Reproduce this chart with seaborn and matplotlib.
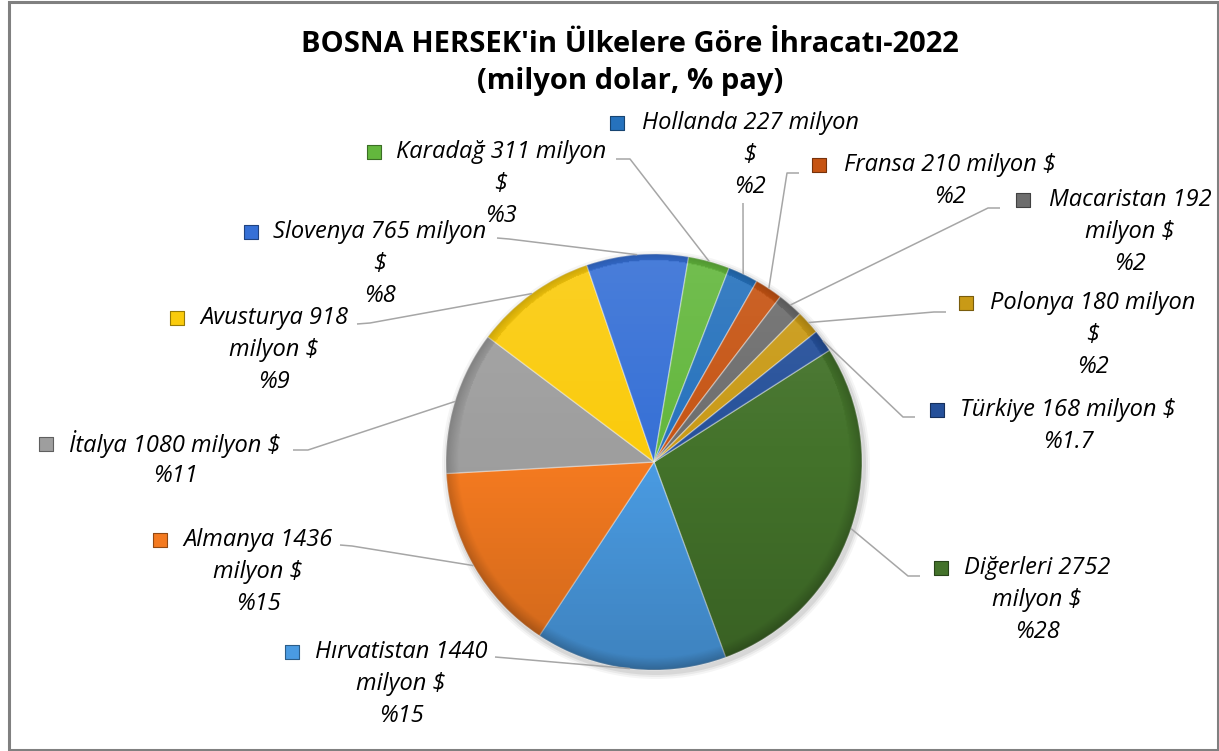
import numpy as np
import matplotlib.pyplot as plt
import matplotlib.colors as mcolors
import seaborn as sns
from matplotlib.patches import Circle, Rectangle

sns.set_theme(style="white")
plt.rcParams['font.family'] = ['Open Sans', 'DejaVu Sans']

# ==============================
# Data (clockwise order, starting from Diğerleri)
# ==============================
countries = ["Diğerleri", "Hırvatistan", "Almanya", "İtalya", "Avusturya", "Slovenya",
             "Karadağ", "Hollanda", "Fransa", "Macaristan", "Polonya", "Türkiye"]
values = [2752, 1440, 1436, 1080, 918, 765, 311, 227, 210, 192, 180, 168]
shares = ["%28", "%15", "%15", "%11", "%9", "%8", "%3", "%2", "%2", "%2", "%2", "%1.7"]
slice_colors = ["#43722A", "#4A9BE2", "#F47A20", "#9E9E9E", "#FACB0C", "#3670D6",
                "#63B73D", "#2672BD", "#C65413", "#6D6D6D", "#C99A16", "#25509A"]

title_lines = ["BOSNA HERSEK'in Ülkelere Göre İhracatı-2022", "(milyon dolar, % pay)"]

# ==============================
# Layout (pixels, measured from top-left of the 1219x751 canvas)
# ==============================
W, H = 1219, 751
PIE_C = (654, 462)
PIE_R = 208
# how many words stay on the first label line
wrap_words = [2, 2, 2, 4, 2, 3, 3, 3, 4, 2, 3, 4]
# first-line centre of each label, and x of its legend key
label_xy = [(1037, 568), (401, 652), (258, 540), (175, 444), (274, 318), (380, 232),
            (501, 152), (750, 123), (950, 165), (1130, 200), (1093, 303), (1068, 410)]
key_x = [941, 292, 160, 46, 177, 251, 374, 617, 819, 1023, 966, 937]
# leader line: point touching the label, then elbow before heading to the slice
anchor_xy = [(920, 576), (495, 657), (340, 545), (293, 450), (357, 324), (497, 238),
             (616, 159), (743, 203), (799, 173), (1000, 208), (946, 312), (915, 417)]
elbow_xy = [(908, 576), (507, 658), (352, 546), (308, 450), (370, 323), (509, 239),
            (630, 159), (743, 205), (787, 173), (988, 208), (934, 312), (903, 417)]
LINE_GAP = 32


def Y(y):
    return H - y


fig = plt.figure(figsize=(W / 100, H / 100), dpi=100)
ax = fig.add_axes([0, 0, 1, 1])

cx, cy = PIE_C[0], Y(PIE_C[1])

# soft shadow under the pie
for k, a in [(6, 0.04), (4, 0.05), (2, 0.07)]:
    ax.add_patch(Circle((cx + 2, cy - 3), PIE_R + k, color="black", alpha=a, lw=0, zorder=1))

wedges, _ = ax.pie(values, colors=slice_colors, startangle=32.5, counterclock=False,
                   center=(cx, cy), radius=PIE_R, frame=True,
                   wedgeprops=dict(edgecolor=(1, 1, 1, 0.35), linewidth=1.0, zorder=2))

# bevel-like shading clipped to the pie
n = 400
gx, gy = np.meshgrid(np.linspace(-1, 1, n), np.linspace(-1, 1, n))
rr = np.sqrt(gx ** 2 + gy ** 2)
shade = np.zeros((n, n, 4))
top = np.clip(gy, 0, 1)
bot = np.clip(-gy, 0, 1)
alpha_w = 0.10 * top
alpha_k = 0.16 * bot + 0.18 * np.clip((rr - 0.94) / 0.06, 0, 1)
shade[..., :3] = np.where((alpha_w > alpha_k)[..., None], 1.0, 0.0)
shade[..., 3] = np.clip(np.maximum(alpha_w, alpha_k), 0, 1)
img = ax.imshow(shade, extent=(cx - PIE_R, cx + PIE_R, cy - PIE_R, cy + PIE_R),
                origin="lower", zorder=3, interpolation="bilinear")
img.set_clip_path(Circle((cx, cy), PIE_R, transform=ax.transData))

# labels, keys and leader lines
for i, w in enumerate(wedges):
    words = f"{countries[i]} {values[i]} milyon $".split()
    lines = [" ".join(words[:wrap_words[i]])]
    rest = " ".join(words[wrap_words[i]:])
    if rest:
        lines.append(rest)
    lines.append(shares[i])

    lx, ly = label_xy[i]
    for j, txt in enumerate(lines):
        ax.text(lx, Y(ly + j * LINE_GAP), txt, ha="center", va="center",
                fontsize=17, style="italic", color="black", zorder=6)

    kc = mcolors.to_rgb(slice_colors[i])
    ax.scatter([key_x[i]], [Y(ly)], marker="s", s=110, color=kc,
               edgecolors=[tuple(c * 0.6 for c in kc)], linewidths=0.8, zorder=6)

    ang = np.deg2rad((w.theta1 + w.theta2) / 2)
    ex, ey = cx + PIE_R * np.cos(ang), cy + PIE_R * np.sin(ang)
    ax.plot([anchor_xy[i][0], elbow_xy[i][0], ex],
            [Y(anchor_xy[i][1]), Y(elbow_xy[i][1]), ey],
            color="#A6A6A6", lw=1.1, zorder=4, solid_capstyle="butt")

# title
for j, t in enumerate(title_lines):
    ax.text(630, Y(45 + j * 36), t, ha="center", va="center",
            fontsize=21, fontweight="bold", color="black")

# outer frame
ax.add_patch(Rectangle((9, Y(749.5)), 1217.5 - 9, 748, fill=False,
                       edgecolor="#808080", lw=2.2, zorder=10))

ax.set_xlim(0, W)
ax.set_ylim(0, H)
ax.set_aspect("equal")
ax.axis("off")

fig.savefig("out.png", dpi=100, facecolor="white")
